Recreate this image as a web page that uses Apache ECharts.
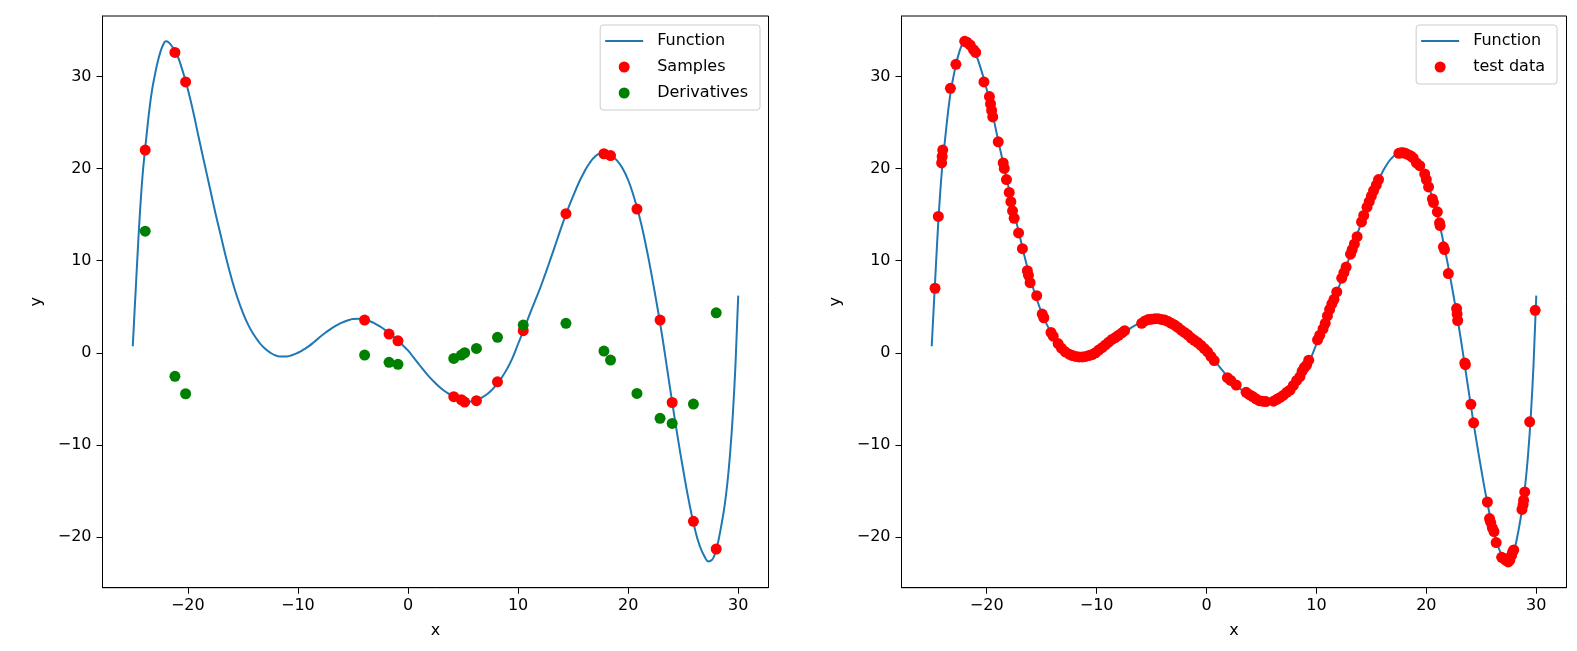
<!DOCTYPE html>
<html>
<head>
<meta charset="utf-8">
<script src="https://cdn.jsdelivr.net/npm/echarts@6/dist/echarts.min.js"></script>
<style>
html,body{margin:0;padding:0;background:#fff;}
#chart{width:1577px;height:651px;}
</style>
</head>
<body>
<div id="chart"></div>
<script>
// ---- data ----
const funcX = [-25, -24.85, -24.7, -24.55, -24.4, -24.25, -24.1, -23.95, -23.8, -23.5, -23.25, -23.0, -22.75, -22.5, -22.25, -22.0, -21.75, -21.5, -21.0, -20.5, -20.0, -19.5, -19.0, -18.5, -18.0, -17.5, -17.0, -16.5, -16.0, -15.5, -15.0, -14.5, -14.0, -13.5, -13.0, -12.5, -12.0, -11.5, -11.0, -10.5, -10.0, -9.5, -9.0, -8.5, -8.0, -7.5, -7.0, -6.5, -6.0, -5.5, -5.0, -4.5, -4.0, -3.5, -3.0, -2.5, -2.0, -1.5, -1.0, -0.5, 0, 0.5, 1, 1.5, 2, 2.5, 3, 3.5, 4, 4.5, 5, 5.5, 6, 6.5, 7, 7.5, 8, 8.5, 9, 9.5, 10, 10.5, 11, 11.5, 12, 12.5, 13, 13.5, 14, 14.5, 15, 15.5, 16, 16.5, 17, 17.5, 18, 18.5, 19, 19.5, 20, 20.5, 21, 21.5, 22, 22.5, 23, 23.5, 24, 24.5, 25, 25.5, 26, 26.5, 27, 27.3, 27.6, 27.8, 28, 28.25, 28.5, 28.75, 29, 29.25, 29.5, 29.75, 30];
const funcY = [0.7, 4.2, 7.6, 11.0, 14.2, 17.0, 19.4, 21.3, 23.0, 26.3, 28.5, 30.1, 31.5, 32.6, 33.4, 33.8, 33.7, 33.35, 32.4, 30.7, 28.6, 26.1, 23.3, 20.6, 17.9, 15.2, 12.7, 10.2, 7.95, 6.0, 4.35, 3.0, 1.95, 1.1, 0.45, 0.0, -0.3, -0.42, -0.4, -0.25, 0.0, 0.33, 0.72, 1.2, 1.7, 2.17, 2.6, 2.97, 3.27, 3.5, 3.66, 3.7, 3.62, 3.45, 3.17, 2.82, 2.4, 1.93, 1.42, 0.85, 0.25, -0.5, -1.25, -2.0, -2.7, -3.3, -3.85, -4.3, -4.67, -5.0, -5.22, -5.3, -5.22, -5.0, -4.65, -4.17, -3.52, -2.72, -1.75, -0.55, 0.95, 2.45, 4.0, 5.5, 7.0, 8.65, 10.35, 12.1, 13.85, 15.5, 17.0, 18.4, 19.6, 20.6, 21.3, 21.65, 21.7, 21.4, 20.85, 20.0, 18.75, 17.0, 14.9, 12.3, 9.3, 6.0, 2.5, -1.4, -5.35, -9.15, -12.7, -16.0, -18.8, -20.95, -22.25, -22.65, -22.5, -22.1, -21.4, -20.1, -18.5, -16.7, -14.3, -11.1, -6.9, -1.3, 6.2];

const sampleX = [-23.87, -21.17, -20.2, -3.94, -1.72, -0.91, 4.16, 4.85, 5.15, 6.22, 8.13, 10.47, 14.35, 17.8, 18.4, 20.8, 22.9, 24.0, 25.93, 28.0];
const sampleY = [22.0, 32.6, 29.4, 3.55, 2.03, 1.3, -4.77, -5.1, -5.35, -5.2, -3.15, 2.39, 15.1, 21.6, 21.4, 15.6, 3.55, -5.4, -18.3, -21.3];
const derivY  = [13.2, -2.56, -4.45, -0.25, -1.04, -1.26, -0.61, -0.25, 0.0, 0.47, 1.67, 3.0, 3.19, 0.18, -0.79, -4.41, -7.12, -7.67, -5.57, 4.34];

const testX = [-24.7, -24.4, -24.1, -24.05, -24.0, -23.3, -22.8, -22.0, -21.8, -21.5, -21.2, -21.0, -20.25, -19.75, -19.65, -19.55, -19.45, -18.95, -18.5, -18.4, -18.2, -17.95, -17.8, -17.65, -17.5, -17.1, -16.75, -16.3, -16.2, -16.05, -15.45, -14.95, -14.8, -14.15, -13.95, -13.5, -13.2, -12.85, -12.5, -12.2, -11.9, -11.6, -11.3, -11.0, -10.7, -10.4, -10.1, -9.8, -9.5, -9.2, -8.9, -8.6, -8.3, -8.0, -7.7, -7.45, -5.9, -5.6, -5.3, -5.0, -4.7, -4.4, -4.1, -3.8, -3.5, -3.2, -2.9, -2.6, -2.3, -2.0, -1.7, -1.4, -1.1, -0.8, -0.5, -0.2, 0.1, 0.4, 0.7, 1.9, 2.2, 2.7, 3.6, 3.9, 4.2, 4.5, 4.8, 5.1, 5.4, 6.1, 6.4, 6.7, 7.0, 7.3, 7.6, 7.9, 8.2, 8.5, 8.7, 8.9, 9.1, 9.3, 10.1, 10.3, 10.6, 10.8, 11.0, 11.2, 11.4, 11.6, 11.85, 12.3, 12.5, 12.7, 13.1, 13.25, 13.45, 13.7, 14.1, 14.3, 14.6, 14.8, 15.0, 15.2, 15.45, 15.65, 17.5, 17.7, 17.9, 18.1, 18.35, 18.6, 18.8, 19.1, 19.4, 19.85, 20.0, 20.2, 20.55, 20.65, 21.0, 21.2, 21.25, 21.55, 21.65, 22.0, 22.75, 22.8, 22.85, 23.5, 23.55, 24.05, 24.3, 25.55, 25.75, 25.85, 26.0, 26.15, 26.35, 26.85, 27.0, 27.2, 27.45, 27.6, 27.75, 27.85, 27.95, 28.7, 28.8, 28.85, 28.95, 29.4, 29.9];
const testY = [7.0, 14.8, 20.6, 21.3, 22.0, 28.7, 31.3, 33.8, 33.7, 33.4, 32.9, 32.6, 29.4, 27.8, 27.0, 26.3, 25.6, 22.9, 20.6, 20.0, 18.8, 17.4, 16.4, 15.4, 14.6, 13.0, 11.3, 8.9, 8.4, 7.6, 6.2, 4.2, 3.8, 2.2, 1.8, 1.0, 0.5, 0.1, -0.15, -0.3, -0.4, -0.45, -0.45, -0.4, -0.3, -0.2, 0.0, 0.3, 0.55, 0.85, 1.15, 1.45, 1.65, 1.9, 2.15, 2.4, 3.2, 3.45, 3.6, 3.65, 3.7, 3.7, 3.62, 3.55, 3.4, 3.2, 3.0, 2.75, 2.45, 2.2, 1.95, 1.6, 1.35, 1.1, 0.8, 0.45, 0.1, -0.4, -0.85, -2.7, -3.0, -3.5, -4.3, -4.55, -4.75, -5.0, -5.2, -5.25, -5.3, -5.25, -5.05, -4.85, -4.6, -4.3, -4.05, -3.55, -3.0, -2.6, -2.0, -1.6, -1.35, -0.8, 1.4, 1.9, 2.6, 3.2, 4.0, 4.7, 5.3, 5.8, 6.6, 8.1, 8.7, 9.3, 10.7, 11.2, 11.8, 12.6, 14.2, 14.9, 15.8, 16.4, 17.0, 17.6, 18.2, 18.8, 21.65, 21.7, 21.7, 21.65, 21.5, 21.35, 21.15, 20.6, 20.3, 19.4, 18.8, 18.0, 16.7, 16.3, 15.3, 14.1, 13.8, 11.5, 11.2, 8.6, 4.8, 4.2, 3.5, -1.1, -1.3, -5.6, -7.6, -16.2, -18.0, -18.4, -19.0, -19.4, -20.6, -22.2, -22.3, -22.5, -22.7, -22.5, -22.0, -21.6, -21.4, -17.0, -16.5, -16.0, -15.1, -7.5, 4.6];

const xTicks = [-20, -10, 0, 10, 20, 30];
const yTicks = [-20, -10, 0, 10, 20, 30];
const legendLeft = ['Function', 'Samples', 'Derivatives'];
const legendRight = ['Function', 'test data'];

// ---- build ----
const zip = (xs, ys) => xs.map((x, i) => [x, ys[i]]);
const FONT = 'DejaVu Sans';
const fmt = v => String(v).replace('-', '\u2212');
const BLUE = '#1f77b4';

function makeX(gi) {
  return {
    type: 'value', gridIndex: gi, min: -27.75, max: 32.75,
    name: 'x', nameLocation: 'middle', nameGap: 35,
    nameTextStyle: { fontFamily: FONT, fontSize: 16, color: '#000' },
    axisLine: { show: true, onZero: false, lineStyle: { color: '#000', width: 1 } },
    axisTick: { show: true, length: 6, customValues: xTicks, lineStyle: { color: '#000' } },
    axisLabel: { customValues: xTicks, margin: 10, fontFamily: FONT, fontSize: 16, color: '#000', formatter: fmt },
    splitLine: { show: false }
  };
}
function makeY(gi) {
  return {
    type: 'value', gridIndex: gi, min: -25.5, max: 36.55,
    name: 'y', nameLocation: 'middle', nameGap: 58, nameRotate: 90,
    nameTextStyle: { fontFamily: FONT, fontSize: 16, color: '#000' },
    axisLine: { show: true, onZero: false, lineStyle: { color: '#000', width: 1 } },
    axisTick: { show: true, length: 6, customValues: yTicks, lineStyle: { color: '#000' } },
    axisLabel: { customValues: yTicks, margin: 11, fontFamily: FONT, fontSize: 16, color: '#000', formatter: fmt },
    splitLine: { show: false }
  };
}
function makeLegend(names, rightPx) {
  return {
    data: names.map(n => n === 'Function'
      ? { name: n, icon: 'path://M0,0L38,0L38,2L0,2Z', itemStyle: { color: BLUE, borderWidth: 0 }, lineStyle: { width: 0 } }
      : { name: n }),
    orient: 'vertical', top: 25, right: rightPx,
    itemWidth: 38, itemHeight: 11, itemGap: 10,
    symbolKeepAspect: true,
    padding: [8, 12, 9, 5],
    backgroundColor: 'rgba(255,255,255,0.8)', borderColor: '#cccccc', borderWidth: 1, borderRadius: 3,
    textStyle: { fontFamily: FONT, fontSize: 16, color: '#000', lineHeight: 16, padding: [0, 0, 0, 9] },
    selectedMode: false
  };
}

const lineStyle = { color: BLUE, width: 2 };
const option = {
  animation: false,
  backgroundColor: '#fff',
  grid: [
    { left: 102.5, top: 16, width: 666, height: 571.7, show: true, borderColor: '#000', borderWidth: 1 },
    { left: 901.5, top: 16, width: 665, height: 571.7, show: true, borderColor: '#000', borderWidth: 1 }
  ],
  xAxis: [makeX(0), makeX(1)],
  yAxis: [makeY(0), makeY(1)],
  legend: [makeLegend(legendLeft, 817), makeLegend(legendRight, 20)],
  series: [
    { name: 'Function', type: 'line', xAxisIndex: 0, yAxisIndex: 0, data: zip(funcX, funcY), z: 2,
      symbol: 'none', smooth: 0.5, lineStyle: lineStyle, itemStyle: { color: BLUE } },
    { name: 'Samples', type: 'scatter', xAxisIndex: 0, yAxisIndex: 0, data: zip(sampleX, sampleY), z: 3,
      symbolSize: 11, itemStyle: { color: '#ff0000', opacity: 1 } },
    { name: 'Derivatives', type: 'scatter', xAxisIndex: 0, yAxisIndex: 0, data: zip(sampleX, derivY), z: 3,
      symbolSize: 11, itemStyle: { color: '#008000', opacity: 1 } },
    { name: 'Function', type: 'line', xAxisIndex: 1, yAxisIndex: 1, data: zip(funcX, funcY), z: 2,
      symbol: 'none', smooth: 0.5, lineStyle: lineStyle, itemStyle: { color: BLUE } },
    { name: 'test data', type: 'scatter', xAxisIndex: 1, yAxisIndex: 1, data: zip(testX, testY), z: 3,
      symbolSize: 11, itemStyle: { color: '#ff0000', opacity: 1 } }
  ]
};
const chart = echarts.init(document.getElementById('chart'), null, { renderer: 'canvas' });
chart.setOption(option);
</script>
</body>
</html>
